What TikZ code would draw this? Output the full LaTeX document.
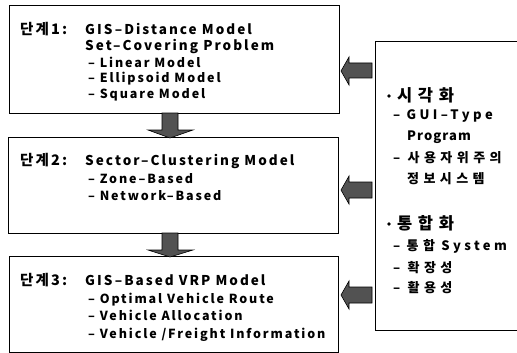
\documentclass[tikz,border=0pt]{standalone}
\usepackage{fontspec}
\setmainfont{Noto Sans CJK KR}[LetterSpace=15]
\newfontfamily\itmfont{Noto Sans CJK KR}[LetterSpace=15]
\newfontfamily\rfont{Noto Sans CJK KR}[LetterSpace=26]
\newfontfamily\pfont{Noto Sans CJK KR}[LetterSpace=8]
\newfontfamily\kwide{Noto Sans CJK KR}[LetterSpace=34]
\begin{document}
\begin{tikzpicture}[x=1pt,y=-1pt,
  boxline/.style={draw=black,line width=1pt},
  fat/.style={fill=black!68,draw=black,line width=0.6pt,line join=miter},
  ttl/.style={anchor=base west,inner sep=0pt,font=\bfseries\fontsize{13.5}{14}\selectfont},
  ktl/.style={anchor=base west,inner sep=0pt,font=\bfseries\fontsize{14.5}{15}\selectfont},
  itm/.style={anchor=base west,inner sep=0pt,font=\itmfont\bfseries\fontsize{12.5}{13}\selectfont},
  ritm/.style={anchor=base west,inner sep=0pt,font=\rfont\bfseries\fontsize{13}{14}\selectfont},
  pitm/.style={anchor=base west,inner sep=0pt,font=\pfont\bfseries\fontsize{13}{14}\selectfont},
  kitm/.style={anchor=base west,inner sep=0pt,font=\kwide\bfseries\fontsize{13}{14}\selectfont},
  big/.style={anchor=base west,inner sep=0pt,font=\kwide\bfseries\fontsize{16.5}{18}\selectfont},
  dot/.style={circle,fill=black,inner sep=0pt,minimum size=3.6pt}]
\clip (0,0) rectangle (517,353);
\useasboundingbox (0,0) rectangle (517,353);
\fill[white] (0,0) rectangle (517,353);
% boxes
\draw[boxline] (9,6) rectangle (339,113);
\draw[boxline] (8,137) rectangle (338,233);
\draw[boxline] (9,256) rectangle (338,352);
\draw[boxline] (520,42) -- (375,42) -- (375,330) -- (520,330);
% box 1
\node[ktl] (s1) at (20,35) {단계1:};
\node[ttl] (t1a) at (85,35) {GIS–Distance Model};
\node[ttl] (t1b) at (85,51) {Set–Covering Problem};
\node[itm] (i1a) at (88,67) {– Linear Model};
\node[itm] (i1b) at (88,83) {– Ellipsoid Model};
\node[itm] (i1c) at (88,99) {– Square Model};
% box 2
\node[ktl] (s2) at (20,165) {단계2:};
\node[ttl] (t2a) at (85,165) {Sector–Clustering Model};
\node[itm] (i2a) at (88,183) {– Zone–Based};
\node[itm] (i2b) at (88,200) {– Network–Based};
% box 3
\node[ktl] (s3) at (20,285) {단계3:};
\node[ttl] (t3a) at (85,285) {GIS–Based VRP Model};
\node[itm] (i3a) at (88,303) {– Optimal Vehicle Route};
\node[itm] (i3b) at (88,320) {– Vehicle Allocation};
\node[itm] (i3c) at (88,338) {– Vehicle /Freight Information};
% right box
\node[dot] (b1) at (389,96) {};
\node[big] (r1) at (397,101) {시각화};
\node[ritm] (r1a) at (393,120) {– GUI–Type};
\node[pitm] (r1b) at (407,140) {Program};
\node[kitm] (r1c) at (393,162) {– 사용자위주의};
\node[kitm] (r1d) at (407,183) {정보시스템};
\node[dot] (b2) at (389,224) {};
\node[big] (r2) at (397,229) {통합화};
\node[ritm] (r2a) at (393,250) {– {\kwide 통합} System};
\node[kitm] (r2b) at (393,272) {– 확장성};
\node[kitm] (r2c) at (393,292) {– 활용성};
% down arrows
\draw[fat] (162,113) -- (178,113) -- (178,130) -- (193,130) -- (170,138) -- (148,130) -- (162,130) -- cycle;
\draw[fat] (162,233) -- (178,233) -- (178,250) -- (193,250) -- (170,257) -- (148,250) -- (162,250) -- cycle;
% left arrows
\draw[fat] (341,71) -- (349,57) -- (349,63) -- (372,63) -- (372,78) -- (349,78) -- (349,85) -- cycle;
\draw[fat] (341,190) -- (349,176) -- (349,182) -- (372,182) -- (372,198) -- (349,198) -- (349,204) -- cycle;
\draw[fat] (341,295) -- (349,281) -- (349,287) -- (372,287) -- (372,303) -- (349,303) -- (349,309) -- cycle;
\end{tikzpicture}
\end{document}
